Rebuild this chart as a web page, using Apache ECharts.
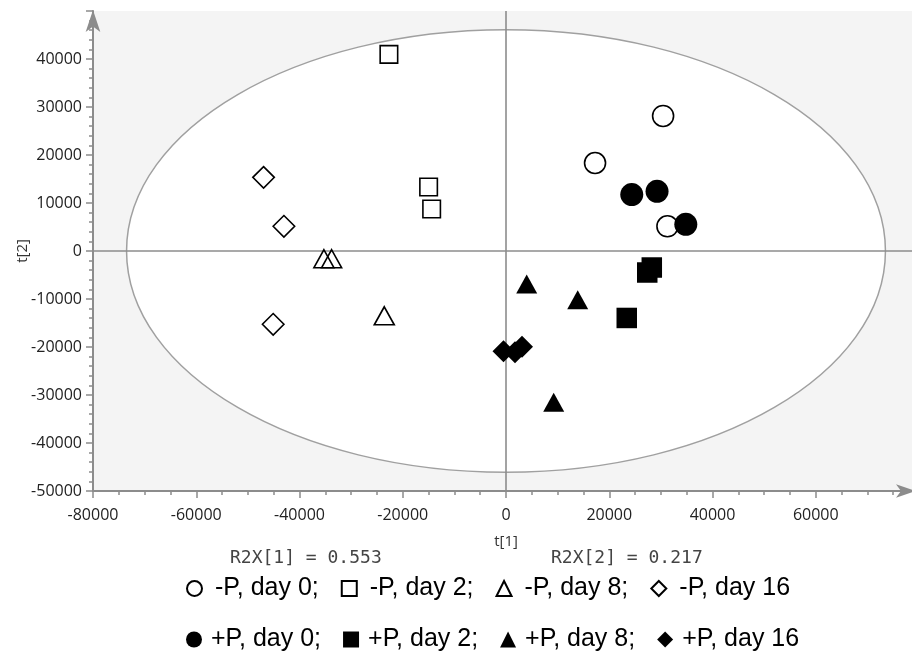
<!DOCTYPE html>
<html>
<head>
<meta charset="utf-8">
<script src="https://cdn.jsdelivr.net/npm/echarts@6/dist/echarts.min.js"></script>
<style>html,body{margin:0;padding:0;background:#fff}#c{width:912px;height:654px}</style>
</head>
<body>
<div id="c"></div>
<script>
// ---- data (t[1], t[2]) ----
const minusP_day0 = [[30430, 28140], [17250, 18330], [31270, 5150]];
const minusP_day2 = [[-22680, 40970], [-14990, 13330], [-14400, 8750]];
const minusP_day8 = [[-35270, -1620], [-33780, -1620], [-23580, -13500]];
const minusP_day16 = [[-46960, 15350], [-43020, 5150], [-45100, -15270]];
const plusP_day0 = [[24360, 11750], [29260, 12430], [34830, 5560]];
const plusP_day2 = [[28240, -3440], [27360, -4480], [23390, -13950]];
const plusP_day8 = [[4010, -6900], [13890, -10170], [9240, -31520]];
const plusP_day16 = [[-480, -20900], [1740, -21100], [3100, -19950]];

const minusNames = ['-P, day 0', '-P, day 2', '-P, day 8', '-P, day 16'];
const plusNames = ['+P, day 0', '+P, day 2', '+P, day 8', '+P, day 16'];

// Hotelling ellipse semi-axes (data units)
const ellipseAxes = [73500, 46100];
const xRange = [-80000, 80000];
const yRange = [-50000, 50000];
const r2x = ['R2X[1] = 0.553', 'R2X[2] = 0.217'];

const AX = '#8c8c8c';
const hollow = { color: 'rgba(0,0,0,0)', borderColor: '#000', borderWidth: 1.6, opacity: 1 };
const solid = { color: '#000', opacity: 1 };

function sc(name, data, symbol, size, style) {
  return { type: 'scatter', name, data, symbol, symbolSize: size, itemStyle: style, z: 3, silent: true };
}

const chart = echarts.init(document.getElementById('c'), null, { renderer: 'canvas' });
const labelFont = { fontFamily: 'Open Sans', fontSize: 16, color: '#222', formatter: v => String(v) };

chart.setOption({
  animation: false,
  backgroundColor: '#fff',
  grid: { left: 93, top: 11, bottom: 163, right: -7, show: true, backgroundColor: '#f4f4f4', borderWidth: 0,
          containLabel: false, outerBoundsMode: 'none' },
  xAxis: {
    type: 'value', min: xRange[0], max: xRange[1], interval: 20000,
    name: 't[1]', nameLocation: 'middle', nameGap: 43, nameMoveOverlap: false,
    nameTextStyle: { fontFamily: 'Open Sans', fontSize: 15, color: '#333' },
    axisLine: { show: true, onZero: false, symbol: ['none', 'arrow'], symbolSize: [10, 20], symbolOffset: [0, -3], lineStyle: { color: AX, width: 2 } },
    axisTick: { show: true, length: 7, lineStyle: { color: AX, width: 1.5 } },
    minorTick: { show: true, splitNumber: 4, length: 4, lineStyle: { color: AX, width: 1.5 } },
    splitLine: { show: false },
    axisLabel: Object.assign({ margin: 16, showMaxLabel: false }, labelFont)
  },
  yAxis: {
    type: 'value', min: yRange[0], max: yRange[1], interval: 10000,
    name: 't[2]', nameLocation: 'middle', nameGap: 63, nameRotate: 90, nameMoveOverlap: false,
    nameTextStyle: { fontFamily: 'Open Sans', fontSize: 15, color: '#333' },
    axisLine: { show: true, onZero: false, symbol: ['none', 'arrow'], symbolSize: [11, 22], symbolOffset: [0, 1], lineStyle: { color: AX, width: 2 } },
    axisTick: { show: true, length: 7, lineStyle: { color: AX, width: 1.5 } },
    minorTick: { show: true, splitNumber: 5, length: 4, lineStyle: { color: AX, width: 1.5 } },
    splitLine: { show: false },
    axisLabel: Object.assign({ margin: 11, showMaxLabel: false }, labelFont)
  },
  title: [
    { text: r2x[0], left: 230, top: 549, padding: 0, textStyle: { fontFamily: 'DejaVu Sans Mono', fontSize: 18, fontWeight: 'normal', color: '#444' } },
    { text: r2x[1], left: 551, top: 549, padding: 0, textStyle: { fontFamily: 'DejaVu Sans Mono', fontSize: 18, fontWeight: 'normal', color: '#444' } }
  ],
  legend: [
    { data: minusNames, left: 181, top: 571, orient: 'horizontal', itemWidth: 15, itemHeight: 15, itemGap: 22, selectedMode: false,
      formatter: n => n.endsWith('16') ? n : n + ';',
      textStyle: { fontFamily: 'Liberation Sans', fontSize: 25, color: '#000', padding: [0, 0, 0, 8] } },
    { data: plusNames, left: 181, top: 622, orient: 'horizontal', itemWidth: 16, itemHeight: 16, itemGap: 22, selectedMode: false,
      formatter: n => n.endsWith('16') ? n : n + ';',
      textStyle: { fontFamily: 'Liberation Sans', fontSize: 25, color: '#000', padding: [0, 0, 0, 4] } }
  ],
  series: [
    {
      type: 'custom', name: 'ellipse', z: 1, silent: true, data: [[0, 0]],
      renderItem: function (params, api) {
        const c = api.coord([api.value(0), api.value(1)]);
        const s = api.size(ellipseAxes);
        const top = api.coord([0, yRange[1]]);
        const bot = api.coord([0, yRange[0]]);
        const lft = api.coord([xRange[0], 0]);
        const rgt = api.coord([xRange[1], 0]);
        return {
          type: 'group',
          children: [
            { type: 'ellipse', shape: { cx: c[0], cy: c[1], rx: s[0], ry: s[1] }, style: { fill: '#fff', stroke: '#a0a0a0', lineWidth: 1.5 } },
            { type: 'line', z2: 5, shape: { x1: c[0], y1: top[1], x2: c[0], y2: bot[1] }, style: { stroke: AX, lineWidth: 1.6 } },
            { type: 'line', z2: 5, shape: { x1: lft[0], y1: c[1], x2: rgt[0], y2: c[1] }, style: { stroke: AX, lineWidth: 1.6 } }
          ]
        };
      }
    },
    sc(minusNames[0], minusP_day0, 'circle', 21, hollow),
    sc(minusNames[1], minusP_day2, 'rect', 17.5, hollow),
    sc(minusNames[2], minusP_day8, 'triangle', [20, 18], hollow),
    sc(minusNames[3], minusP_day16, 'diamond', 21.5, hollow),
    sc(plusNames[0], plusP_day0, 'circle', 23, solid),
    sc(plusNames[1], plusP_day2, 'rect', 20.5, solid),
    sc(plusNames[2], plusP_day8, 'triangle', [21, 19], solid),
    sc(plusNames[3], plusP_day16, 'diamond', 22, solid)
  ]
});
</script>
</body>
</html>
